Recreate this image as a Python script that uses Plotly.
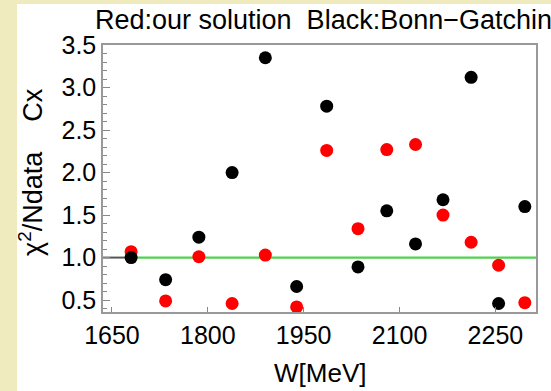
import plotly.graph_objects as go

W = [1680, 1734, 1786, 1838, 1890, 1939, 1986, 2035, 2080, 2125, 2168, 2212, 2255, 2296]
black_vals = [1.00, 0.74, 1.24, 2.00, 3.35, 0.66, 2.78, 0.89, 1.55, 1.16, 1.68, 3.12, 0.46, 1.60]
red_vals = [1.07, 0.49, 1.01, 0.46, 1.03, 0.42, 2.26, 1.34, 2.27, 2.33, 1.50, 1.18, 0.91, 0.47]
x_ticks = [1650, 1800, 1950, 2100, 2250]
y_ticks = [0.5, 1.0, 1.5, 2.0, 2.5, 3.0, 3.5]
ref_level = 1.0
x_range = [1636, 2313.5]
y_range = [0.36, 3.5]

W_PX, H_PX = 551, 391
L, R, T, B = 103, 15, 45, 79
pw = W_PX - L - R
ph = H_PX - T - B

def px_x(p):
    return (p - L) / pw

def px_y(p):
    return 1 - (p - T) / ph

FONT = "Liberation Sans, Arial, sans-serif"
YEL = "#efebbf"

fig = go.Figure()
fig.add_trace(go.Scatter(x=[x_range[0], W[0]], y=[ref_level, ref_level], mode="lines",
                         line=dict(color="#555555", width=2), hoverinfo="skip", showlegend=False))
fig.add_trace(go.Scatter(x=[W[0], x_range[1]], y=[ref_level, ref_level], mode="lines",
                         line=dict(color="#4fd24f", width=2.2), hoverinfo="skip", showlegend=False))
fig.add_trace(go.Scatter(x=W, y=red_vals, mode="markers",
                         marker=dict(color="#ff0000", size=13, line=dict(width=0)), showlegend=False))
fig.add_trace(go.Scatter(x=W, y=black_vals, mode="markers",
                         marker=dict(color="#000000", size=13, line=dict(width=0)), showlegend=False))

axis_common = dict(showgrid=False, zeroline=False, showline=True, linecolor="#999999", linewidth=1.5,
                   mirror=True, ticks="inside", tickcolor="#888888", tickwidth=1,
                   tickfont=dict(family=FONT, size=25, color="black"))

fig.update_xaxes(range=x_range, tickvals=x_ticks, ticktext=[str(v) for v in x_ticks], ticklen=5,
                 **axis_common)
fig.update_yaxes(range=y_range, tickvals=y_ticks, ticktext=[f"{v:.1f}" for v in y_ticks], ticklen=7,
                 minor=dict(dtick=0.1, ticklen=4, ticks="inside", tickcolor="#888888", showgrid=False),
                 **axis_common)

shapes = [
    dict(type="rect", xref="paper", yref="paper", x0=px_x(0), x1=px_x(17), y0=px_y(H_PX), y1=px_y(0),
         fillcolor=YEL, line=dict(width=0), layer="below"),
    dict(type="rect", xref="paper", yref="paper", x0=px_x(0), x1=px_x(W_PX), y0=px_y(4), y1=px_y(0),
         fillcolor=YEL, line=dict(width=0), layer="below"),
]

fig.update_layout(
    width=W_PX, height=H_PX,
    margin=dict(l=L, r=R, t=T, b=B, pad=0),
    paper_bgcolor="white", plot_bgcolor="white",
    shapes=shapes,
    annotations=[
        dict(text="Red:our solution  Black:Bonn−Gatchina", xref="paper", yref="paper",
             x=px_x(93), y=px_y(37), xanchor="left", yanchor="bottom", showarrow=False,
             font=dict(family=FONT, size=27, color="black")),
        dict(text="χ<sup>2</sup>/Ndata    Cx", xref="paper", yref="paper",
             x=px_x(31), y=px_y(172), xanchor="center", yanchor="middle", textangle=-90, showarrow=False,
             font=dict(family=FONT, size=27, color="black")),
        dict(text="W[MeV]", xref="paper", yref="paper",
             x=px_x(319.5), y=px_y(373), xanchor="center", yanchor="middle", showarrow=False,
             font=dict(family=FONT, size=26, color="black")),
    ],
)

fig.write_html("out.html")
